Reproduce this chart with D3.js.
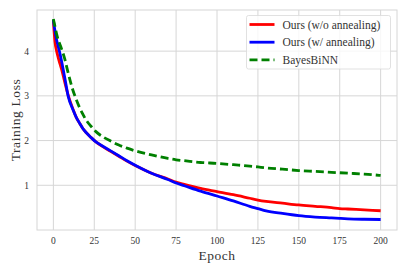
<!DOCTYPE html>
<html>
<head>
<meta charset="utf-8">
<script src="https://cdn.jsdelivr.net/npm/d3@7"></script>
<style>
  body { margin: 0; background: #fff; }
  text { font-family: "Liberation Serif", "DejaVu Serif", serif; fill: #333; }
</style>
</head>
<body>
<div id="chart"></div>
<script>
// training loss curves
var epochs = [0, 1, 2, 3, 4, 5, 7, 9, 12, 14, 16, 18, 20, 23, 26, 30, 35, 40, 45, 50, 60, 70, 75, 80, 90,
              100, 110, 120, 125, 130, 140, 150, 160, 170, 175, 180, 190, 200];
var lossNoAnneal = [4.68, 4.2, 4.0, 3.85, 3.72, 3.6, 3.3, 3.02, 2.7, 2.52, 2.39, 2.27, 2.18, 2.07, 1.97, 1.87,
                    1.76, 1.65, 1.54, 1.44, 1.27, 1.14, 1.07, 1.02, 0.93, 0.86, 0.79, 0.71, 0.67, 0.64,
                    0.6, 0.56, 0.53, 0.5, 0.48, 0.47, 0.45, 0.43];
var lossAnneal = [4.7, 4.45, 4.25, 4.1, 3.95, 3.78, 3.4, 3.0, 2.69, 2.52, 2.39, 2.27, 2.18, 2.07, 1.97, 1.88,
                  1.77, 1.66, 1.55, 1.45, 1.27, 1.13, 1.05, 0.99, 0.87, 0.76, 0.65, 0.53, 0.48, 0.43,
                  0.37, 0.32, 0.29, 0.27, 0.26, 0.25, 0.24, 0.235];
var lossBayes = [4.72, 4.55, 4.38, 4.25, 4.15, 4.05, 3.82, 3.52, 3.12, 2.92, 2.74, 2.59, 2.46, 2.32, 2.2, 2.09,
                 1.99, 1.9, 1.83, 1.77, 1.68, 1.6, 1.57, 1.55, 1.51, 1.49, 1.46, 1.43, 1.41, 1.39,
                 1.36, 1.33, 1.31, 1.29, 1.28, 1.27, 1.25, 1.22];
var seriesNames = ["Ours (w/o annealing)", "Ours (w/ annealing)", "BayesBiNN"];
var xTicks = [0, 25, 50, 75, 100, 125, 150, 175, 200];
var yTicks = [1, 2, 3, 4];

var W = 407, H = 271;
var margin = {left: 37, top: 10, right: 10, bottom: 41};

var svg = d3.select("#chart").append("svg")
  .attr("width", W).attr("height", H);

var x = d3.scaleLinear().domain([-10, 210]).range([margin.left, W - margin.right]);
var y = d3.scaleLinear().domain([0.0, 4.92]).range([H - margin.bottom, margin.top]);

// grid
var g = svg.append("g");
g.selectAll(".gx").data(xTicks).enter().append("line")
  .attr("x1", d => x(d)).attr("x2", d => x(d))
  .attr("y1", margin.top).attr("y2", H - margin.bottom)
  .attr("stroke", "#d6d6d6").attr("stroke-width", 1);
g.selectAll(".gy").data(yTicks).enter().append("line")
  .attr("x1", margin.left).attr("x2", W - margin.right)
  .attr("y1", d => y(d)).attr("y2", d => y(d))
  .attr("stroke", "#d6d6d6").attr("stroke-width", 1);

// frame
svg.append("rect")
  .attr("x", margin.left).attr("y", margin.top)
  .attr("width", W - margin.left - margin.right)
  .attr("height", H - margin.top - margin.bottom)
  .attr("fill", "none").attr("stroke", "#d6d6d6").attr("stroke-width", 1);

// tick labels
svg.selectAll(".xt").data(xTicks).enter().append("text")
  .attr("x", d => x(d)).attr("y", H - margin.bottom + 14)
  .attr("text-anchor", "middle").attr("font-size", 9.5)
  .text(d => d);
svg.selectAll(".yt").data(yTicks).enter().append("text")
  .attr("x", margin.left - 8).attr("y", d => y(d) + 3.5)
  .attr("text-anchor", "end").attr("font-size", 9.5)
  .text(d => d);

// axis titles
svg.append("text")
  .attr("x", x(100)).attr("y", 260)
  .attr("text-anchor", "middle").attr("font-size", 13.5)
  .attr("letter-spacing", 0.5)
  .text("Epoch");
svg.append("text")
  .attr("transform", "translate(20," + ((margin.top + H - margin.bottom) / 2) + ") rotate(-90)")
  .attr("text-anchor", "middle").attr("font-size", 13.5)
  .attr("letter-spacing", 0.6)
  .text("Training Loss");

// lines
var line = d3.line()
  .x((d, i) => x(epochs[i]))
  .y(d => y(d))
  .curve(d3.curveMonotoneX);

var series = [
  {vals: lossNoAnneal, color: "#ff0000", dash: null},
  {vals: lossAnneal, color: "#0000ff", dash: null},
  {vals: lossBayes, color: "#008000", dash: "8,4"}
];
series.forEach(s => {
  svg.append("path")
    .attr("d", line(s.vals))
    .attr("fill", "none")
    .attr("stroke", s.color)
    .attr("stroke-width", 2.8)
    .attr("stroke-dasharray", s.dash);
});

// legend
var leg = svg.append("g").attr("transform", "translate(246.5,15.5)");
leg.append("rect")
  .attr("width", 144).attr("height", 53.5).attr("rx", 2)
  .attr("fill", "#fff").attr("fill-opacity", 0.8)
  .attr("stroke", "#d9d9d9").attr("stroke-width", 0.8);
seriesNames.forEach((name, i) => {
  var yy = 9 + i * 17.7;
  leg.append("line")
    .attr("x1", 3).attr("x2", 28).attr("y1", yy).attr("y2", yy)
    .attr("stroke", series[i].color).attr("stroke-width", 2.8)
    .attr("stroke-dasharray", series[i].dash);
  leg.append("text")
    .attr("x", 36).attr("y", yy + 4)
    .attr("font-size", 11.5)
    .text(name);
});
</script>
</body>
</html>
